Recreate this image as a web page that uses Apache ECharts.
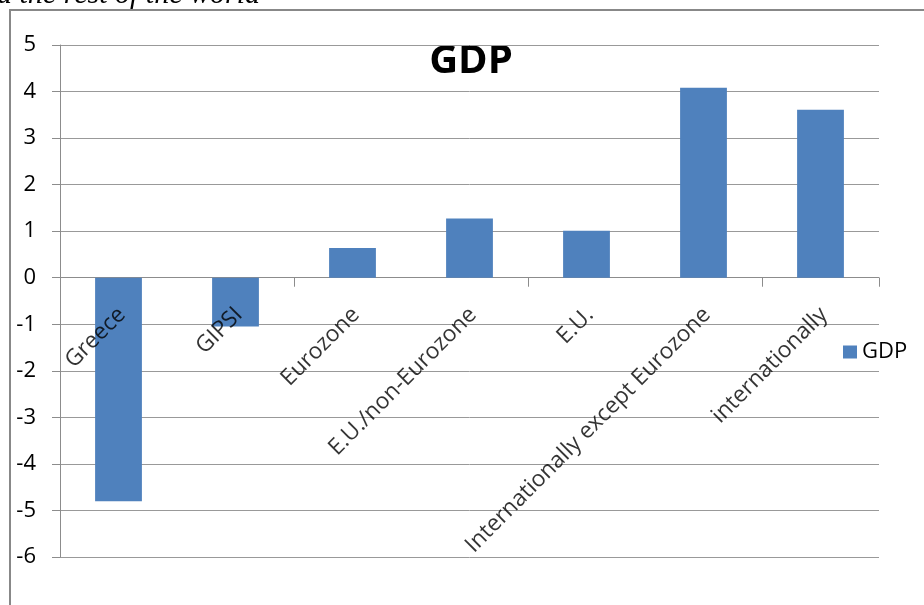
<!DOCTYPE html>
<html>
<head>
<meta charset="utf-8">
<script src="https://cdn.jsdelivr.net/npm/echarts@6/dist/echarts.min.js"></script>
<style>
html,body{margin:0;padding:0;background:#fff;}
#chart{width:924px;height:605px;}
</style>
</head>
<body>
<div id="chart"></div>
<script>
const categories = ["Greece", "GIPSI", "Eurozone", "E.U./non-Eurozone", "E.U.", "Internationally except Eurozone", "internationally"];
const gdpValues = [-4.8, -1.05, 0.64, 1.27, 1.01, 4.08, 3.61];
const seriesName = "GDP";
const chartTitle = "GDP";
const captionText = "d the rest of the world";

const chart = echarts.init(document.getElementById('chart'));
const gray = '#8c8c8c';
chart.setOption({
  animation: false,
  textStyle: { fontFamily: 'Open Sans' },
  graphic: [
    { type: 'rect', shape: { x: 10, y: 10, width: 1000, height: 1000 }, style: { fill: 'none', stroke: '#888', lineWidth: 2 }, z: 0 },
    { type: 'text', x: -3, y: -5, style: { text: captionText, font: 'italic 30px "Liberation Serif"', fill: '#000', textAlign: 'left', textVerticalAlign: 'middle' } },
    { type: 'text', x: 471, y: 62, style: { text: chartTitle, font: 'bold 40px "Open Sans"', fill: '#000', textAlign: 'center', textVerticalAlign: 'middle' } }
  ],
  legend: {
    data: [seriesName],
    left: 838, top: 336,
    icon: 'rect', itemWidth: 14, itemHeight: 13, itemGap: 5,
    textStyle: { fontSize: 22, color: '#000', fontFamily: 'Open Sans' }
  },
  grid: { left: 60, right: 45, top: 45, bottom: 48, containLabel: false, outerBoundsMode: 'none' },
  xAxis: {
    type: 'category',
    data: categories,
    axisLine: { onZero: true, lineStyle: { color: gray, width: 1 } },
    axisTick: { show: true, length: 9, lineStyle: { color: gray } },
    axisLabel: { show: false }
  },
  yAxis: {
    type: 'value', min: -6, max: 5, interval: 1,
    axisLine: { show: true, lineStyle: { color: gray } },
    axisTick: { show: true, length: 8, lineStyle: { color: gray } },
    axisLabel: { fontSize: 22, color: '#000', margin: 24, fontFamily: 'Open Sans' },
    splitLine: { lineStyle: { color: '#999', width: 1 } }
  },
  series: [{
    name: seriesName,
    type: 'bar',
    data: gdpValues,
    barCategoryGap: '60%',
    itemStyle: { color: '#4F81BD' }
  }, {
    name: 'labels',
    type: 'scatter',
    data: categories.map((c, i) => [i, 0]),
    symbolSize: 1,
    itemStyle: { color: 'rgba(0,0,0,0)' },
    silent: true,
    z: 5,
    label: {
      show: true,
      position: [4, 34],
      rotate: 45,
      align: 'right',
      verticalAlign: 'middle',
      fontSize: 22.7,
      color: '#000',
      fontFamily: 'Open Sans',
      formatter: p => categories[p.dataIndex]
    }
  }]
});
</script>
</body>
</html>
